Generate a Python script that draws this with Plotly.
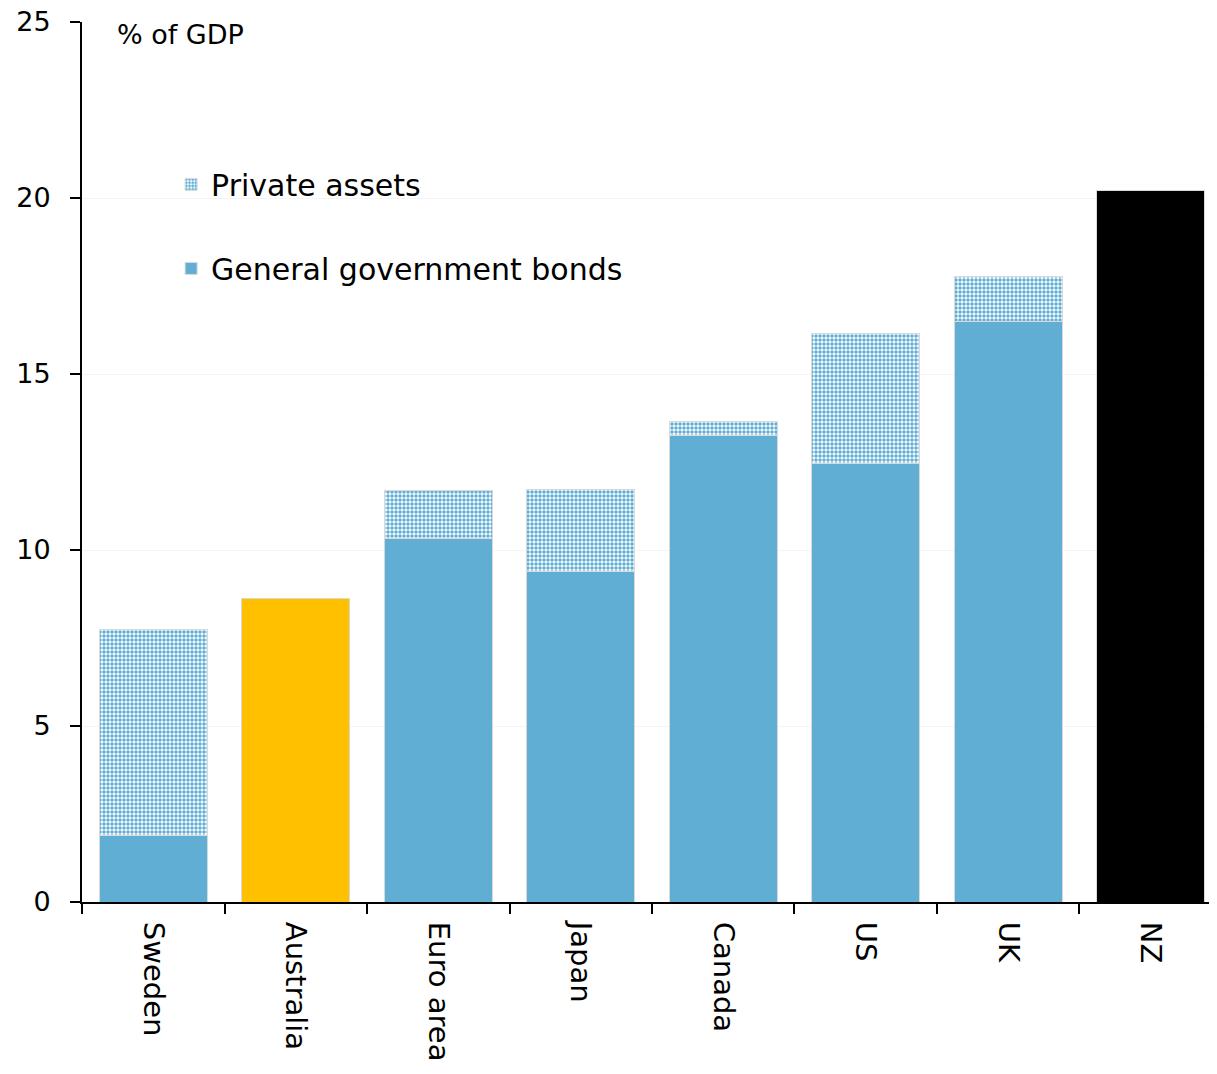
import plotly.graph_objects as go

categories = ["Sweden", "Australia", "Euro area", "Japan", "Canada", "US", "UK", "NZ"]
gov_bonds = [1.90, None, 10.34, 9.40, 13.24, 12.47, 16.48, None]
private_assets = [5.83, None, 1.36, 2.33, 0.42, 3.67, 1.28, None]
australia = [None, 8.61, None, None, None, None, None, None]
nz = [None, None, None, None, None, None, None, 20.2]
y_ticks = [0, 5, 10, 15, 20, 25]

BLUE = "#61aed5"
FONT = "DejaVu Sans"
edge = dict(color="#d9d9d9", width=1)

fig = go.Figure()
fig.add_trace(go.Bar(x=categories, y=gov_bonds, name="General government bonds",
                     marker=dict(color=BLUE, line=edge), legendgroup="g", legendrank=2))
fig.add_trace(go.Bar(x=categories, y=private_assets, name="Private assets",
                     marker=dict(color="white", line=edge,
                                 pattern=dict(shape=".", fgcolor=BLUE, bgcolor="white",
                                              size=4, solidity=0.6, fillmode="replace")),
                     legendgroup="p", legendrank=1))
fig.add_trace(go.Bar(x=categories, y=australia, name="Australia", showlegend=False,
                     marker=dict(color="#ffc000", line=edge)))
fig.add_trace(go.Bar(x=categories, y=nz, name="NZ", showlegend=False,
                     marker=dict(color="black", line=edge)))

fig.update_layout(
    width=1209, height=1066,
    barmode="stack", bargap=0.24,
    plot_bgcolor="white", paper_bgcolor="white",
    margin=dict(l=74, r=0, t=14, b=172),
    font=dict(family=FONT, size=26, color="black"),
    legend=dict(x=0.0785, y=0.845, xanchor="left", yanchor="top",
                font=dict(size=30), tracegroupgap=42, itemwidth=30,
                bgcolor="rgba(0,0,0,0)"),
    xaxis=dict(type="category", tickangle=90, ticks="outside", ticklen=10,
               tickson="boundaries", tickcolor="black", tickwidth=2,
               showline=True, linecolor="black", linewidth=2, automargin=False,
               range=[-0.5, 7.465], tickfont=dict(size=29),
               ticklabelstandoff=12, ticklabeloverflow="allow"),
    yaxis=dict(range=[0, 25], tickvals=y_ticks, ticks="outside", ticklen=10,
               tickcolor="black", tickwidth=2, showline=True, linecolor="black",
               linewidth=2, showgrid=True, gridcolor="#f4f4f4", gridwidth=1,
               tickfont=dict(size=27), zeroline=False, automargin=False,
               ticklabelstandoff=14, ticklabeloverflow="allow"),
    annotations=[dict(text="% of GDP", x=0.029, y=1.0, xref="paper", yref="paper",
                      xanchor="left", yanchor="top", showarrow=False, yshift=5,
                      font=dict(size=27))],
)

fig.write_html("out.html")
